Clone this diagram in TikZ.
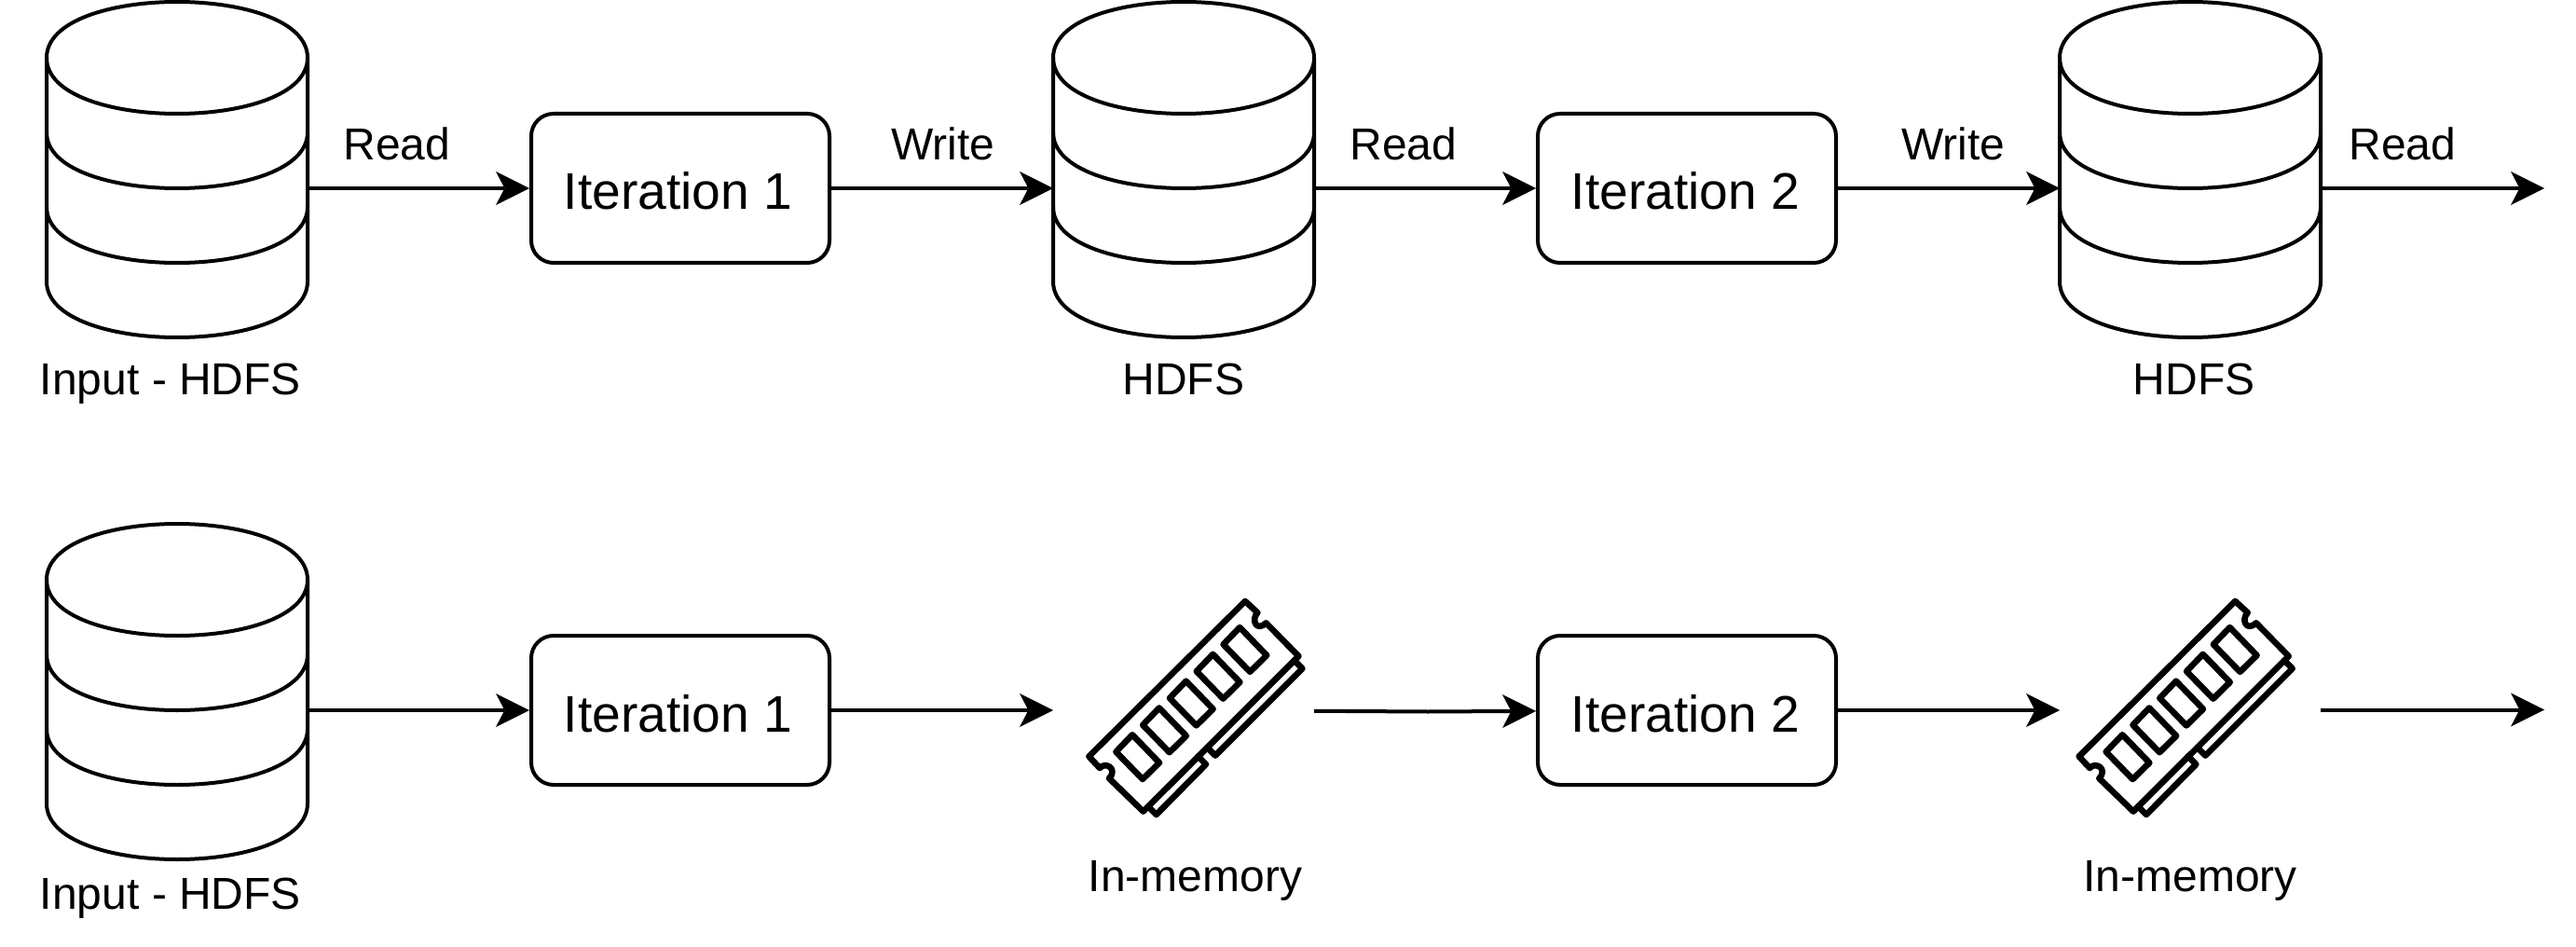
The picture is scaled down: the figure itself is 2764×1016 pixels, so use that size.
\documentclass[tikz,border=0pt]{standalone}
\usepackage{fontspec}
\setmainfont{Liberation Sans}
\usetikzlibrary{arrows.meta}
\tikzset{
  flow/.style={line width=2pt,-{Stealth[length=18pt,width=18pt,inset=4.7pt,line width=0pt]}},
  iter/.style={draw,line width=2pt,rounded corners=12pt,minimum width=160pt,minimum height=80pt,inner sep=0pt},
  dbcore/.style={minimum width=140pt,minimum height=2pt,inner sep=0pt,outer sep=0pt},
  memcore/.style={minimum width=140pt,minimum height=2pt,inner sep=0pt,outer sep=0pt},
  dbline/.style={line width=2pt,line join=round},
  ramline/.style={line width=3.3pt,line join=round,line cap=round},
  txt/.style={anchor=base,inner sep=0pt,font=\fontsize{24}{28}\selectfont},
  itertxt/.style={font=\fontsize{27.6}{32}\selectfont}
}
% stacked disks: name, x, y of the connector
\newcommand{\dbstack}[3]{
  \node[dbcore] (#1) at (#2,#3) {};
  \begin{scope}[shift={(#2,#3)}]
    \draw[dbline] (-140,-140) .. controls (-140,-220) and (140,-220) .. (140,-140)
      -- (140,100) .. controls (140,180) and (-140,180) .. (-140,100) -- cycle;
    \foreach \s in {-140,-60,20}
      \draw[dbline] (-140,\s) .. controls (-140,\s+80) and (140,\s+80) .. (140,\s);
  \end{scope}
}
% memory module: x, y of its centre
\newcommand{\ramstick}[2]{
  \begin{scope}[shift={(#1,#2)}]
    \draw[ramline] (53.3,-114.3) -- (66.7,-102) .. controls (59,-94.3) and (65.7,-81) .. (75.7,-91)
      -- (110.7,-55.3) -- (-56,111.3) -- (-92.7,75.7) .. controls (-82.7,65.7) and (-96.7,57.3) .. (-102.7,64.7)
      -- (-114.3,52.3) -- cycle;
    \foreach \i in {0,...,4}
      \draw[ramline,shift={(28.8*\i,-28.8*\i)}] (-67.7,29) -- (-38.7,59) -- (-56.7,76.7) -- (-85.3,47.3) -- cycle;
    \draw[ramline] (106,-50.7) -- (114.7,-42) -- (21.3,51.3) -- (12.7,42.7);
    \draw[ramline] (2.7,52) -- (11.3,60.7) -- (-42,114.7) -- (-50.7,106);
  \end{scope}
}

\begin{document}
\begin{tikzpicture}[x=0.5pt,y=-0.5pt]
      \useasboundingbox (0,0) rectangle (2764,1016);
      % top row
      \dbstack{dbA}{190}{202}
      \dbstack{dbB}{1270}{202}
      \dbstack{dbC}{2350}{202}
      \node[iter] (iterA) at (730,202) {};
      \node[iter] (iterB) at (1810,202) {};
      \node[txt,itertxt] (iterAtxt) at (727.5,225) {Iteration 1};
      \node[txt,itertxt] (iterBtxt) at (1808.5,225) {Iteration 2};
      \coordinate (outA) at (2730,202);
      \draw[flow] (dbA) -- (iterA);
      \draw[flow] (iterA) -- (dbB);
      \draw[flow] (dbB) -- (iterB);
      \draw[flow] (iterB) -- (dbC);
      \draw[flow] (dbC) -- (outA);
      \node[txt] (rdA) at (426,172) {Read};
      \node[txt] (wrA) at (1012,172) {Write};
      \node[txt] (rdB) at (1506,172) {Read};
      \node[txt] (wrB) at (2096,172) {Write};
      \node[txt] (rdC) at (2578,172) {Read};
      \node[txt] (lblA) at (183,423) {Input - HDFS};
      \node[txt] (lblB) at (1270,423) {HDFS};
      \node[txt] (lblC) at (2354,423) {HDFS};
      % bottom row
      \dbstack{dbD}{190}{762}
      \node[memcore] (memA) at (1270,762) {};
      \node[memcore] (memB) at (2350,762) {};
      \ramstick{1282.7}{759.3}
      \ramstick{2345}{759.3}
      \node[iter] (iterC) at (730,762) {};
      \node[iter] (iterD) at (1810,762) {};
      \node[txt,itertxt] (iterCtxt) at (727.5,785) {Iteration 1};
      \node[txt,itertxt] (iterDtxt) at (1808.5,785) {Iteration 2};
      \coordinate (bendA) at (1532,763.5);
      \coordinate (outB) at (2730,761.5);
      \draw[flow] (dbD) -- (iterC);
      \draw[flow] (iterC) -- (memA);
      \draw[flow] (memA) -- (bendA) -- (iterD);
      \draw[flow] (iterD) -- (memB);
      \draw[flow] (memB.east |- outB) -- (outB);
      \node[txt] (lblD) at (183,975) {Input - HDFS};
      \node[txt] (lblE) at (1282.5,956) {In-memory};
      \node[txt] (lblF) at (2350,956) {In-memory};
\end{tikzpicture}
\end{document}
